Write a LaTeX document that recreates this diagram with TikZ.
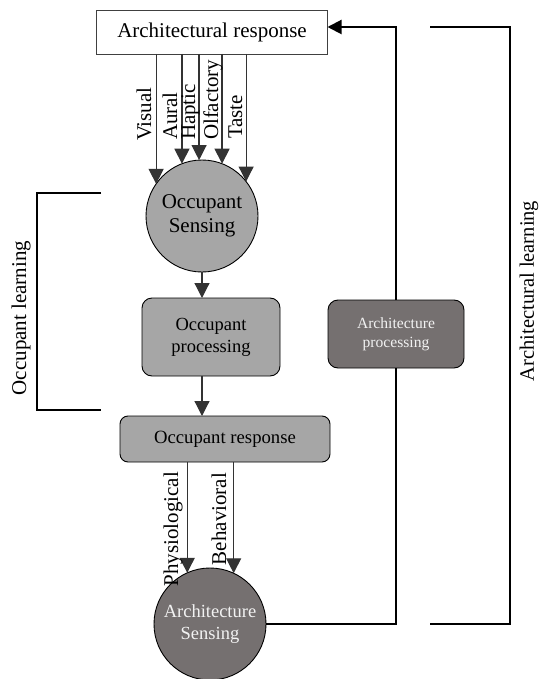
\documentclass[tikz,border=0pt]{standalone}
\usepackage{fontspec}
\setmainfont{Liberation Serif}
\usetikzlibrary{arrows.meta,calc}
\definecolor{lgray}{HTML}{A6A6A6}
\definecolor{dgray}{HTML}{757070}
\definecolor{lineg}{HTML}{333333}
\begin{document}
\begin{tikzpicture}[x=1pt,y=-1pt,
  every node/.style={outer sep=0pt,inner sep=0pt},
  arr/.style={draw=lineg,line width=1.2pt,-{Triangle[width=15pt,length=15pt]}},
  loopline/.style={draw=black,line width=2pt},
  brk/.style={draw=black,line width=2pt},
  lbl/.style={rotate=90,font=\fontsize{21}{25}\selectfont},
  lgbox/.style={draw=black,line width=0.9pt,fill=lgray,rounded corners=10pt,align=center},
  dkbox/.style={draw=black,line width=0.9pt,fill=dgray,rounded corners=10pt,align=center,text=white!95!black},
]
\useasboundingbox (0,0) rectangle (540,679);

% nodes
\node[draw=black!75,line width=0.8pt,fill=white,minimum width=231pt,minimum height=44pt,
      font=\fontsize{21}{25}\selectfont] (resp) at (212,32) {Architectural response};
\node[circle,draw=black,line width=0.9pt,fill=lgray,minimum size=112pt,align=center,
      font=\fontsize{21}{24}\selectfont] (osens) at (202,216) {Occupant\\Sensing};
\node[lgbox,minimum width=138pt,minimum height=78pt,
      font=\fontsize{18.5}{22}\selectfont] (oproc) at (211,337) {Occupant\\processing};
\node[lgbox,rounded corners=8pt,minimum width=210pt,minimum height=46pt,
      font=\fontsize{18.7}{22}\selectfont] (oresp) at (225,439) {Occupant response};
\node[circle,draw=black,line width=0.9pt,fill=dgray,minimum size=112pt,align=center,
      text=white!95!black,font=\fontsize{18.5}{22}\selectfont] (asens) at (210,624) {Architecture\\Sensing};
\node[dkbox,minimum width=136pt,minimum height=68pt,
      font=\fontsize{15.6}{19}\selectfont] (aproc) at (396,334) {Architecture\\processing};

% sense arrows
\draw[arr] (resp.south -| osens.145) -- (osens.145);
\draw[arr] (resp.south -| osens.111) -- (osens.111);
\draw[arr] (resp.south -| osens.93) -- (osens.93);
\draw[arr] (resp.south -| osens.69) -- (osens.69);
\draw[arr] (resp.south -| osens.38) -- (osens.38);
\node[lbl,anchor=base west] (lvis) at (151,141) {Visual};
\node[lbl,anchor=base west] (laur) at (177,140) {Aural};
\node[lbl,anchor=base west] (lhap) at (195,140) {Haptic};
\node[lbl,anchor=base west] (lolf) at (218,140) {Olfactory};
\node[lbl,anchor=base west] (ltas) at (242,139) {Taste};

% central chain
\draw[arr] (osens.south) -- (osens.south |- oproc.north);
\draw[arr] (oproc.south -| osens.south) -- (oresp.north -| osens.south);

% response arrows
\draw[arr] (oresp.south -| asens.114) -- (asens.114);
\draw[arr] (oresp.south -| asens.65) -- (asens.65);
\node[lbl,anchor=base east] (lphy) at (178,472) {Physiological};
\node[lbl,anchor=base east] (lbeh) at (226,473) {Behavioral};

% architecture loop
\coordinate (tgt) at ([yshift=5pt]resp.east);
\draw[loopline] (asens.east) -- (aproc.south |- asens.east) -- (aproc.south);
\draw[loopline,-{Triangle[width=14pt,length=14pt]}] (aproc.north) -- (aproc.north |- tgt) -- (tgt);

% brackets
\coordinate (ob1) at (101,193); \coordinate (ob2) at (37,193);
\coordinate (ob3) at (37,410);  \coordinate (ob4) at (101,410);
\draw[brk] (ob1) -- (ob2) -- (ob3) -- (ob4);
\node[lbl] (olearn) at (21,318) {Occupant learning};

\coordinate (ab1) at (430,27); \coordinate (ab2) at (510,27);
\coordinate (ab3) at (510,624); \coordinate (ab4) at (430,624);
\draw[brk] (ab1) -- (ab2) -- (ab3) -- (ab4);
\node[lbl,font=\fontsize{20.5}{24}\selectfont] (alearn) at (529,291) {Architectural learning};
\end{tikzpicture}
\end{document}
